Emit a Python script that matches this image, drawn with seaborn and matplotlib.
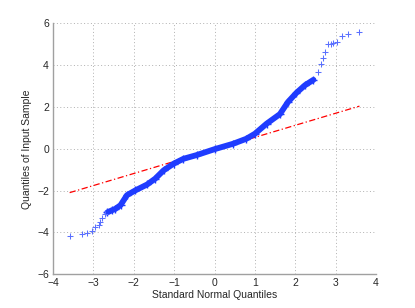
import seaborn as sns
import numpy as np
import pandas as pd
import matplotlib
matplotlib.use("Agg")
import matplotlib.pyplot as plt

# puntos (cuantiles normales vs cuantiles de la muestra)
cola_inf_x = [-3.57, -3.28, -3.16, -3.03, -2.95, -2.87, -2.83, -2.79, -2.72]
cola_inf_y = [-4.16, -4.10, -4.05, -3.94, -3.76, -3.65, -3.50, -3.33, -3.14]

centro_x = [-2.66, -2.55, -2.46, -2.33, -2.17, -1.96, -1.67, -1.47, -1.26, -1.01,
            -0.77, -0.44, 0.00, 0.46, 0.79, 1.00, 1.29, 1.62, 1.82, 2.03, 2.24, 2.45]
centro_y = [-3.05, -2.95, -2.88, -2.70, -2.22, -1.99, -1.71, -1.43, -1.03, -0.71,
            -0.48, -0.30, -0.02, 0.24, 0.48, 0.72, 1.20, 1.66, 2.24, 2.68, 3.04, 3.30]

cola_sup_x = [2.57, 2.63, 2.68, 2.74, 2.82, 2.89, 2.94, 3.04, 3.15, 3.30, 3.59]
cola_sup_y = [3.68, 4.04, 4.33, 4.64, 5.01, 5.01, 5.05, 5.13, 5.41, 5.50, 5.61]

# recta de referencia (por los cuartiles)
recta_x = [-3.59, 3.59]
recta_y = [-2.10, 2.04]

df_centro = pd.DataFrame({"x": centro_x, "y": centro_y})
df_colas = pd.DataFrame({"x": cola_inf_x + cola_sup_x, "y": cola_inf_y + cola_sup_y})
df_recta = pd.DataFrame({"x": recta_x, "y": recta_y})

sns.set_style("white")
plt.rcParams['font.family'] = ['Liberation Sans', 'DejaVu Sans']

fig = plt.figure(figsize=(4.15, 3.08), dpi=100)
ax = fig.add_axes([0.128, 0.110, 0.778, 0.814])

azul = "#1f3cff"

sns.lineplot(data=df_recta, x="x", y="y", ax=ax, color="red",
             linestyle=(0, (5, 2, 1, 2)), linewidth=0.9, zorder=2)
sns.lineplot(data=df_centro, x="x", y="y", ax=ax, color=azul,
             linewidth=4.2, sort=False, zorder=3)
sns.scatterplot(data=df_centro, x="x", y="y", ax=ax, marker="+", s=28,
                color=azul, linewidth=1.0, zorder=3)
sns.scatterplot(data=df_colas, x="x", y="y", ax=ax, marker="+", s=18,
                color="#5a70ff", linewidth=0.75, zorder=3)

ax.set_xlim(-4, 4)
ax.set_ylim(-6, 6)
ax.set_xticks(range(-4, 5))
ax.set_yticks(range(-6, 7, 2))
ax.set_xticklabels([str(v).replace("-", "\u2212") for v in range(-4, 5)])
ax.set_yticklabels([str(v).replace("-", "\u2212") for v in range(-6, 7, 2)])

ax.grid(True, linestyle=(0, (1, 2.5)), color="#b0b0b0", linewidth=0.7)
for lado in ["top", "right"]:
    ax.spines[lado].set_visible(False)
for lado in ["left", "bottom"]:
    ax.spines[lado].set_color("#a0a0a0")
    ax.spines[lado].set_linewidth(1.0)

ax.tick_params(direction="in", length=3, width=0.6, color="#808080",
               labelsize=7.5, pad=3)
ax.set_xlabel("Standard Normal Quantiles", fontsize=7.5, labelpad=1)
ax.set_ylabel("Quantiles of Input Sample", fontsize=7.5, labelpad=4)

fig.savefig("out.png", dpi=100)
